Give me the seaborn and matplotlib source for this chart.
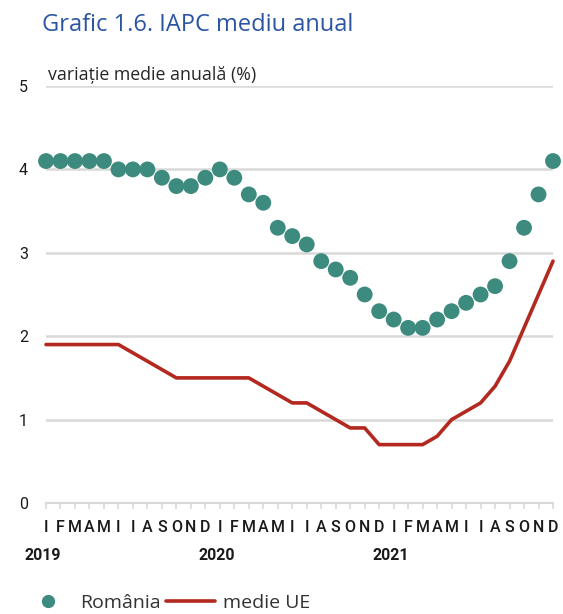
import matplotlib
matplotlib.use("Agg")
import matplotlib.pyplot as plt
import seaborn as sns
import pandas as pd
import numpy as np
from matplotlib.lines import Line2D

months = ["I", "F", "M", "A", "M", "I", "I", "A", "S", "O", "N", "D"] * 3
years = ["2019", "2020", "2021"]
romania = [4.1, 4.1, 4.1, 4.1, 4.1, 4.0, 4.0, 4.0, 3.9, 3.8, 3.8, 3.9,
           4.0, 3.9, 3.7, 3.6, 3.3, 3.2, 3.1, 2.9, 2.8, 2.7, 2.5, 2.3,
           2.2, 2.1, 2.1, 2.2, 2.3, 2.4, 2.5, 2.6, 2.9, 3.3, 3.7, 4.1]
medie_ue = [1.9, 1.9, 1.9, 1.9, 1.9, 1.9, 1.8, 1.7, 1.6, 1.5, 1.5, 1.5,
            1.5, 1.5, 1.5, 1.4, 1.3, 1.2, 1.2, 1.1, 1.0, 0.9, 0.9, 0.7,
            0.7, 0.7, 0.7, 0.8, 1.0, 1.1, 1.2, 1.4, 1.7, 2.1, 2.5, 2.9]

df = pd.DataFrame({"t": np.arange(len(months)), "romania": romania, "ue": medie_ue})

sns.set_theme(style="white")
plt.rcParams["font.family"] = ["Open Sans", "DejaVu Sans"]

TEAL = "#3d8a7e"
RED = "#b3291f"
GRID = "#d9d9d9"
NARROW = ["Roboto", "DejaVu Sans"]

fig = plt.figure(figsize=(5.63, 6.14), dpi=100)
W, H = 563, 614
x0, x1 = 46, 553
y0, y1 = 503, 86
ax = fig.add_axes([x0 / W, (H - y0) / H, (x1 - x0) / W, (y0 - y1) / H])

sns.lineplot(data=df, x="t", y="ue", ax=ax, color=RED, linewidth=2.6, zorder=3, clip_on=False)
sns.scatterplot(data=df, x="t", y="romania", ax=ax, color=TEAL, s=130, edgecolor="none",
                linewidth=0, zorder=4, clip_on=False)

ax.set_xlim(0, len(months) - 1)
ax.set_ylim(0, 5)
ax.set_xlabel("")
ax.set_ylabel("")

for v in [1, 2, 3, 4, 5]:
    ax.axhline(v, color=GRID, linewidth=1.8, zorder=1)

for s in ["top", "right", "left"]:
    ax.spines[s].set_visible(False)
ax.spines["bottom"].set_color(GRID)
ax.spines["bottom"].set_linewidth(1.5)

ax.set_yticks([0, 1, 2, 3, 4, 5])
ax.set_yticklabels(["0", "1", "2", "3", "4", "5"], fontsize=11.5,
                   fontfamily=NARROW, color="#1a1a1a")
ax.tick_params(axis="y", length=0, pad=13)

ax.set_xticks(df["t"])
ax.set_xticklabels(months, fontsize=11.5, fontweight="medium",
                   fontfamily=NARROW, color="#1a1a1a")
ax.tick_params(axis="x", length=4, width=1.2, color=GRID, pad=8, direction="out", bottom=True)

trans = matplotlib.transforms.blended_transform_factory(ax.transData, fig.transFigure)
for i, y in enumerate(years):
    ax.text(i * 12 - 0.2, (H - 555) / H, y, transform=trans, ha="center", va="center",
            fontsize=11.5, fontweight="bold", fontfamily=NARROW, color="#1a1a1a")

fig.text(42 / W, (H - 25) / H, "Grafic 1.6. IAPC mediu anual", fontsize=17, color="#2b55a4",
         ha="left", va="center")
fig.text(48 / W, (H - 75) / H, "variație medie anuală (%)", fontsize=12.8, color="#262626",
         ha="left", va="center")

handles = [Line2D([], [], marker="o", linestyle="none", markersize=8.5, color=TEAL),
           Line2D([], [], color=RED, linewidth=2.6)]
fig.legend(handles, ["România", "medie UE"], loc="center left",
           bbox_to_anchor=(24 / W, (H - 603) / H), ncol=2, frameon=False,
           fontsize=14, handlelength=2.5, handletextpad=0.41, columnspacing=0.26,
           borderaxespad=0, borderpad=0, labelcolor="#333333")

fig.savefig("out.png", dpi=100)
